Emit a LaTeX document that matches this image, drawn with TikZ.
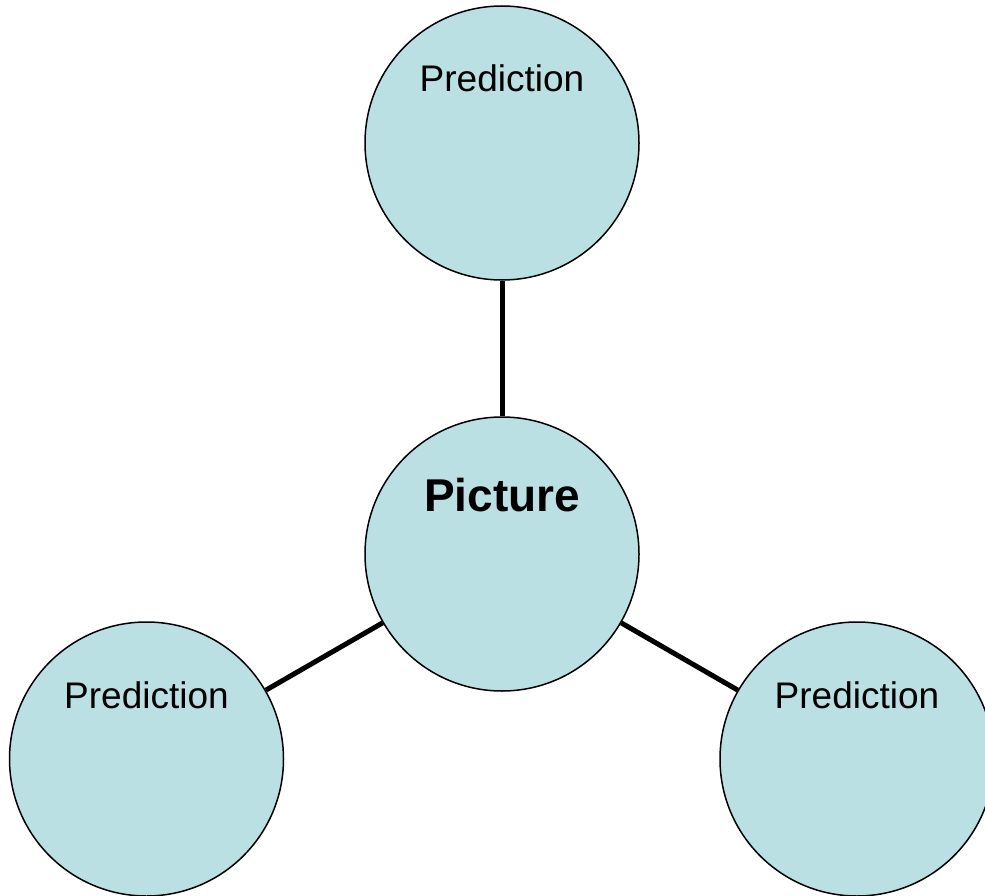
\documentclass[tikz,border=0pt]{standalone}
\usepackage{fontspec}
\setmainfont{Liberation Sans}
\definecolor{bubble}{RGB}{187,224,227}
\begin{document}
\begin{tikzpicture}[x=1pt,y=-1pt,
  bubble/.style={circle,draw=black,line width=1.5pt,fill=bubble,minimum size=274pt,inner sep=0pt},
  link/.style={line width=5pt,black},
  predlabel/.style={anchor=base,inner sep=0pt,font=\fontsize{37}{42}\selectfont},
  mainlabel/.style={anchor=base,inner sep=0pt,font=\fontsize{46}{52}\selectfont\bfseries}]
\useasboundingbox (0,0) rectangle (985,896);
\clip (0,0) rectangle (985,896);
\node[bubble] (top) at (502,143) {};
\node[bubble] (mid) at (502,554) {};
\node[bubble] (left) at (146.5,759) {};
\node[bubble] (right) at (857,759) {};
\draw[link] (top) -- (mid);
\draw[link] (left) -- (mid);
\draw[link] (right) -- (mid);
\node[predlabel] (ttop) at (502,92) {Prediction};
\node[mainlabel] (tmid) at (502,511) {Picture};
\node[predlabel] (tleft) at (146.5,708) {Prediction};
\node[predlabel] (tright) at (857,708) {Prediction};
\end{tikzpicture}
\end{document}
